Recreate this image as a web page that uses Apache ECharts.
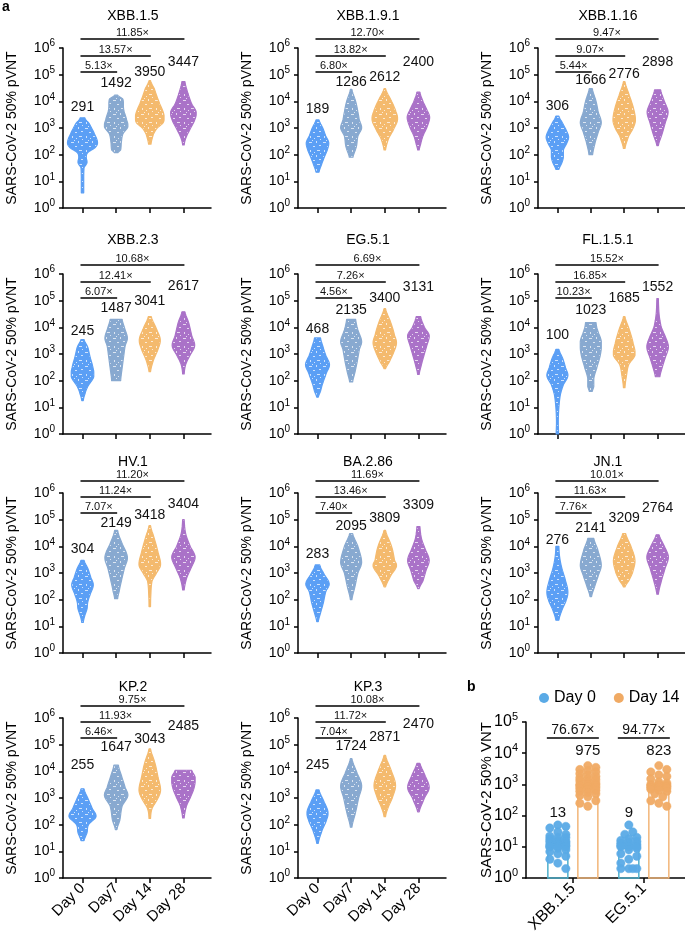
<!DOCTYPE html>
<html><head><meta charset="utf-8">
<script src="https://cdn.jsdelivr.net/npm/echarts@6/dist/echarts.min.js"></script>
<style>html,body{margin:0;padding:0;background:#fff}#c{width:685px;height:944px}</style>
</head><body><div id="c"></div>
<script>
// ---------------- DATA ----------------
const variants = ['XBB.1.5','XBB.1.9.1','XBB.1.16','XBB.2.3','EG.5.1','FL.1.5.1','HV.1','BA.2.86','JN.1','KP.2','KP.3'];
const days = ['Day 0','Day7','Day 14','Day 28'];
const gmt = [
  [291,1492,3950,3447],[189,1286,2612,2400],[306,1666,2776,2898],[245,1487,3041,2617],
  [468,2135,3400,3131],[100,1023,1685,1552],[304,2149,3418,3404],[283,2095,3809,3309],
  [276,2141,3209,2764],[255,1647,3043,2485],[245,1724,2871,2470]
];
// fold changes vs Day 0: [Day7, Day14, Day28]
const folds = [
  [5.13,13.57,11.85],[6.80,13.82,12.70],[5.44,9.07,9.47],[6.07,12.41,10.68],
  [4.56,7.26,6.69],[10.23,16.85,15.52],[7.07,11.24,11.20],[7.40,13.46,11.69],
  [7.76,11.63,10.01],[6.46,11.93,9.75],[7.04,11.72,10.08]
];
// violin density profiles: [titer, relative density width], high -> low
const violins = [
 [ // XBB.1.5
  [[2400,.15],[1450,.45],[690,.75],[290,1.0],[186,.85],[120,.35],[80,.25],[50,.3],[32,.1],[3.7,.08]],
  [[17000,.1],[12000,.45],[5000,.5],[2000,.7],[1100,.78],[600,.45],[300,.35],[150,.3],[120,.12]],
  [[60000,.05],[30000,.3],[10000,.6],[3000,.95],[1600,.9],[1000,.5],[600,.25],[250,.08]],
  [[55000,.1],[20000,.3],[8000,.55],[4000,.85],[2000,.75],[800,.4],[400,.15],[230,.05]]
 ],
 [ // XBB.1.9.1
  [[2000,.1],[1000,.35],[500,.55],[280,.75],[150,.65],[80,.45],[40,.25],[22,.1]],
  [[28000,.05],[10000,.3],[4000,.45],[2000,.55],[1000,.7],[500,.45],[200,.35],[80,.12]],
  [[30000,.05],[10000,.45],[4000,.75],[2000,.85],[800,.55],[400,.25],[150,.05]],
  [[22000,.1],[10000,.3],[5000,.55],[2500,.75],[1000,.55],[500,.3],[250,.15],[150,.05]]
 ],
 [ // XBB.1.16
  [[2800,.1],[1500,.35],[800,.6],[450,.75],[250,.6],[150,.4],[80,.4],[50,.3],[28,.1]],
  [[30000,.1],[10000,.35],[4000,.5],[1600,.7],[700,.5],[300,.3],[100,.12]],
  [[55000,.05],[20000,.3],[6000,.6],[2000,.75],[1000,.6],[500,.3],[170,.05]],
  [[27000,.2],[10000,.45],[4000,.7],[1500,.5],[600,.3],[220,.05]]
 ],
 [ // XBB.2.3
  [[3500,.1],[1800,.35],[800,.5],[300,.7],[140,.75],[60,.35],[30,.15],[18,.05]],
  [[20000,.4],[10000,.55],[4000,.75],[2000,.6],[800,.5],[300,.4],[100,.3]],
  [[25000,.1],[10000,.4],[3500,.7],[1500,.55],[600,.25],[220,.05]],
  [[38000,.1],[15000,.35],[5000,.55],[2000,.75],[800,.4],[400,.15],[180,.05]]
 ],
 [ // EG.5.1
  [[4000,.2],[2000,.35],[900,.55],[400,.8],[200,.6],[80,.35],[40,.2],[24,.05]],
  [[20000,.3],[8000,.45],[3000,.7],[1500,.55],[500,.4],[200,.25],[90,.1]],
  [[50000,.05],[15000,.4],[5000,.65],[2500,.78],[1000,.55],[500,.3],[280,.05]],
  [[25000,.15],[10000,.4],[5000,.72],[2000,.55],[800,.35],[400,.2],[170,.05]]
 ],
 [ // FL.1.5.1
  [[1500,.1],[700,.35],[300,.55],[150,.7],[70,.4],[30,.2],[10,.1],[3,.06],[1,.08]],
  [[15000,.35],[8000,.45],[3000,.7],[1000,.65],[300,.4],[120,.2],[60,.2],[40,.1]],
  [[25000,.05],[8000,.35],[2500,.6],[900,.72],[400,.3],[150,.15],[55,.05]],
  [[120000,.05],[30000,.1],[10000,.25],[4000,.55],[1800,.72],[700,.5],[300,.3],[140,.15]]
 ],
 [ // HV.1
  [[3000,.1],[1500,.35],[700,.55],[350,.72],[150,.5],[80,.35],[45,.3],[25,.15],[14,.05]],
  [[40000,.1],[15000,.35],[4000,.75],[1500,.55],[500,.35],[200,.2],[110,.1]],
  [[60000,.05],[20000,.3],[6000,.55],[2000,.72],[1000,.45],[500,.15],[150,.07],[55,.05]],
  [[100000,.05],[30000,.15],[10000,.45],[4000,.78],[1500,.5],[600,.2],[230,.05]]
 ],
 [ // BA.2.86
  [[2000,.15],[1000,.4],[400,.78],[200,.55],[80,.4],[40,.25],[15,.05]],
  [[30000,.1],[10000,.45],[2500,.7],[1000,.45],[300,.25],[100,.05]],
  [[40000,.05],[10000,.45],[3000,.65],[1800,.78],[800,.4],[300,.05]],
  [[55000,.1],[20000,.2],[8000,.45],[3000,.72],[1200,.5],[500,.3],[260,.05]]
 ],
 [ // JN.1
  [[10000,.1],[4000,.15],[1500,.3],[500,.55],[200,.7],[100,.6],[40,.3],[17,.1]],
  [[20000,.2],[8000,.45],[2000,.7],[800,.5],[300,.25],[130,.05]],
  [[30000,.1],[10000,.45],[3000,.72],[1000,.55],[500,.3],[300,.05]],
  [[27000,.1],[10000,.45],[4000,.72],[1500,.5],[500,.25],[160,.05]]
 ],
 [ // KP.2
  [[2200,.1],[1000,.35],[400,.65],[200,.9],[100,.4],[50,.3],[25,.1]],
  [[17000,.15],[7000,.35],[2500,.6],[1200,.78],[500,.4],[150,.25],[65,.05]],
  [[70000,.05],[20000,.35],[6000,.55],[2000,.72],[1000,.55],[400,.15],[170,.05]],
  [[11000,.55],[6000,.78],[2500,.72],[1000,.45],[500,.2],[180,.05]]
 ],
 [ // KP.3
  [[2000,.1],[800,.4],[300,.7],[150,.6],[60,.3],[20,.05]],
  [[30000,.05],[10000,.35],[3000,.7],[1000,.5],[300,.3],[80,.05]],
  [[40000,.05],[10000,.45],[3000,.72],[1000,.5],[400,.2],[200,.05]],
  [[20000,.1],[8000,.4],[2500,.72],[1000,.4],[300,.05]]
 ]
];
// panel b
const bVariants = ['XBB.1.5','EG.5.1'];
const bGroups = ['Day 0','Day 14'];
const bGmt = [[13,975],[9,823]];
const bFolds = [76.67,94.77];
const bDay0 = [
  [50,45,40,30,25,22,20,20,18,16,15,15,14,13,12,12,11,10,10,10,10,9,8,7,6,5,4,3,2],
  [50,30,25,20,18,16,15,14,13,12,12,11,10,10,10,9,8,6,5,4,3,2,2,2,2]
];
const bDay14 = [
  [4000,3500,3000,2800,2500,2200,2000,1800,1600,1500,1400,1300,1200,1100,1000,1000,950,900,850,800,750,700,650,600,550,500,450,400,300,250,200],
  [4000,3000,2500,2000,1800,1500,1200,1100,1000,1000,950,900,900,850,800,800,750,700,650,600,500,400,300,250,200]
];

// ---------------- LAYOUT / STYLE ----------------
const FONT = '"Liberation Sans", Arial, sans-serif';
const DAY_COLORS = ['#5b9ff5','#88a9d0','#f4ba6e','#aa72c8'];
const COL_LEFT = [63, 298, 538];
const ROW_TOP = [48, 274, 493, 718];
const TITLE_Y = [16, 240, 462, 687];
const GW = 148, GH = 160;
const VW = 15; // px half-width at density 1
const BRACKET_DY = [[-9,8,24],[-9,8,24],[-12,4,20],[-12,4,20]];
const MEAN_DY = [
  [59,35,24,14],[61,34,29,14],[58,32,26,14],[57,34,27,12],[55,36,24,13],[61,36,24,13],
  [56,30,22,11],[61,33,25,12],[47,35,25,15],[47,29,21,8],[47,28,19,6]
];

function speckle(color) {
  const c = document.createElement('canvas');
  c.width = 14; c.height = 14;
  const g = c.getContext('2d');
  g.fillStyle = color; g.fillRect(0, 0, 14, 14);
  g.fillStyle = 'rgba(255,255,255,0.7)';
  [[1,2,3,1],[8,1,1,2],[5,6,2,1],[11,5,2,1],[2,10,1,2],[9,10,3,1],[6,12,1,1],[12,13,1,1],[4,0,1,1]]
    .forEach(r => g.fillRect(r[0], r[1], r[2], r[3]));
  return {image: c, repeat: 'repeat'};
}
const DAY_FILLS = DAY_COLORS.map(speckle);

// smooth the density knots in log space (clamped Catmull-Rom, no overshoot)
function densify(prof) {
  const L = prof.map(p => [Math.log10(p[0]), p[1]]);
  const out = [L[0]];
  for (let j = 1; j < L.length; j++) {
    const p0 = L[Math.max(0, j - 2)], p1 = L[j - 1], p2 = L[j], p3 = L[Math.min(L.length - 1, j + 1)];
    const lo = Math.min(p1[1], p2[1]), hi = Math.max(p1[1], p2[1]);
    for (let s = 1; s <= 6; s++) {
      const t = s / 6;
      let w = 0.5 * ((2 * p1[1]) + (-p0[1] + p2[1]) * t + (2 * p0[1] - 5 * p1[1] + 4 * p2[1] - p3[1]) * t * t +
        (-p0[1] + 3 * p1[1] - 3 * p2[1] + p3[1]) * t * t * t);
      w = Math.max(lo, Math.min(hi, w));
      out.push([p1[0] + (p2[0] - p1[0]) * t, w]);
    }
  }
  return out;
}

const supFmt = v => '{b|10}{s|' + Math.round(Math.log10(v)) + '}';

const grids = [], xAxes = [], yAxes = [], series = [], titles = [];

variants.forEach((name, pi) => {
  const row = Math.floor(pi / 3), col = pi % 3;
  const left = COL_LEFT[col], top = ROW_TOP[row];
  const bottomRow = (pi >= 9);
  grids.push({left: left, top: top, width: GW, height: GH});
  xAxes.push({
    type: 'value', gridIndex: pi, min: -0.58, max: 3.82,
    axisLine: {onZero: false, lineStyle: {color: '#000', width: 1.5}},
    axisTick: {customValues: [0,1,2,3], length: 5, lineStyle: {color: '#000', width: 1.5}},
    axisLabel: bottomRow ? {customValues: [0,1,2,3], rotate: 45, formatter: v => days[Math.round(v)],
      fontSize: 15, color: '#000', fontFamily: FONT, margin: 8} : {show: false},
    splitLine: {show: false}
  });
  yAxes.push({
    type: 'log', logBase: 10, gridIndex: pi, min: 1, max: 1e6,
    axisLine: {show: true, onZero: false, lineStyle: {color: '#000', width: 1.5}},
    axisTick: {show: true, length: 4, lineStyle: {color: '#000', width: 1.5}},
    splitLine: {show: false},
    axisLabel: {formatter: supFmt, margin: 8, rich: {
      b: {fontSize: 14, color: '#000', fontFamily: FONT},
      s: {fontSize: 10, color: '#000', fontFamily: FONT, padding: [0,0,9,0]}}},
    name: 'SARS-CoV-2 50% pVNT', nameLocation: 'middle', nameGap: 44, nameMoveOverlap: false,
    nameTextStyle: {fontSize: 14, color: '#000', fontFamily: FONT}
  });
  titles.push({text: name, left: left + (GW * (0.58 + 1.5) / 4.4), top: TITLE_Y[row] - 8, textAlign: 'center',
    padding: 0, textStyle: {fontSize: 14, fontWeight: 'normal', color: '#000', fontFamily: FONT, lineHeight: 16}});
  series.push({
    type: 'custom', xAxisIndex: pi, yAxisIndex: pi, clip: false, silent: true,
    data: days.map((d, i) => [i, gmt[pi][i]]),
    renderItem: function (params, api) {
      const d = params.dataIndex;
      const prof = densify(violins[pi][d]);
      const cx = api.coord([d, 1])[0];
      const right = prof.map(p => [cx + p[1] * VW, api.coord([d, Math.pow(10, p[0])])[1]]);
      const leftS = prof.slice().reverse().map(p => [cx - p[1] * VW, api.coord([d, Math.pow(10, p[0])])[1]]);
      const cs = params.coordSys;
      return {type: 'group', children: [
        {type: 'polygon', shape: {points: right.concat(leftS)},
          style: {fill: DAY_FILLS[d], stroke: DAY_COLORS[d], lineWidth: 1.2, lineJoin: 'round'}},
        {type: 'text', style: {text: String(gmt[pi][d]), x: cx, y: cs.y + MEAN_DY[pi][d],
          align: 'center', verticalAlign: 'middle', font: '14px ' + FONT, fill: '#111'}}
      ]};
    }
  });
  series.push({
    type: 'custom', xAxisIndex: pi, yAxisIndex: pi, clip: false, silent: true,
    data: folds[pi].map((f, i) => [i + 1, f]),
    renderItem: function (params, api) {
      const k = params.dataIndex + 1;
      const cs = params.coordSys;
      const y = cs.y + BRACKET_DY[row][3 - k];
      const x0 = api.coord([-0.06, 1])[0], x1 = api.coord([k + 0.03, 1])[0];
      return {type: 'group', children: [
        {type: 'line', shape: {x1: x0, y1: y, x2: x1, y2: y}, style: {stroke: '#000', lineWidth: 1.5}},
        {type: 'text', style: {text: folds[pi][k - 1].toFixed(2) + '\u00d7', x: (x0 + x1) / 2, y: y - 6,
          align: 'center', verticalAlign: 'middle', font: '11px ' + FONT, fill: '#111'}}
      ]};
    }
  });
});

// ---------- panel b ----------
const bi = variants.length;
grids.push({left: 526, top: 722, width: 159, height: 156});
xAxes.push({
  type: 'value', gridIndex: bi, min: -0.66, max: 1.58,
  axisLine: {onZero: false, lineStyle: {color: '#000', width: 1.5}},
  axisTick: {customValues: [0,1], length: 5, lineStyle: {color: '#000', width: 1.5}},
  axisLabel: {customValues: [0,1], rotate: 45, formatter: v => bVariants[Math.round(v)],
    fontSize: 16, color: '#000', fontFamily: FONT, margin: 8},
  splitLine: {show: false}
});
yAxes.push({
  type: 'log', logBase: 10, gridIndex: bi, min: 1, max: 1e5,
  axisLine: {show: true, onZero: false, lineStyle: {color: '#000', width: 1.5}},
  axisTick: {show: true, length: 4, lineStyle: {color: '#000', width: 1.5}},
  splitLine: {show: false},
  axisLabel: {formatter: supFmt, margin: 8, rich: {
    b: {fontSize: 16, color: '#000', fontFamily: FONT},
    s: {fontSize: 11, color: '#000', fontFamily: FONT, padding: [0,0,10,0]}}},
  name: 'SARS-CoV-2 50% VNT', nameLocation: 'middle', nameGap: 32, nameMoveOverlap: false,
  nameTextStyle: {fontSize: 15, color: '#000', fontFamily: FONT}
});
const B_BAR_COLORS = ['#4fb0cc', '#f2b679'];
const B_DOT_COLORS = ['#5aaae6', '#f0aa64'];
const B_OFF = [-15, 15];
const B_LABEL_DY = [91, 29];

function swarm(vals, cx, api, r, halfW) {
  const pts = vals.map(v => api.coord([0, v])[1]).sort((a, b) => a - b);
  const placed = [];
  pts.forEach(y => {
    let best = 0, bestOv = Infinity;
    for (let k = 0; k < 9; k++) {
      const off = (k % 2 === 1 ? 1 : -1) * Math.ceil(k / 2) * r * 0.95;
      if (Math.abs(off) > halfW) continue;
      let ov = 0;
      placed.forEach(p => {
        const dd = Math.hypot(p[0] - (cx + off), p[1] - y);
        if (dd < 2 * r * 0.9) ov += (2 * r * 0.9 - dd);
      });
      if (ov < bestOv - 0.01) { bestOv = ov; best = off; }
      if (ov === 0) break;
    }
    placed.push([cx + best, y]);
  });
  return placed;
}

bGroups.forEach((g, gi) => {
  series.push({
    type: 'custom', name: g, xAxisIndex: bi, yAxisIndex: bi, clip: false, silent: true,
    itemStyle: {color: B_DOT_COLORS[gi]},
    data: bVariants.map((v, i) => [i, bGmt[i][gi]]),
    renderItem: function (params, api) {
      const i = params.dataIndex;
      const cx = api.coord([i, 1])[0] + B_OFF[gi];
      const y0 = api.coord([i, 1])[1];
      const y1 = api.coord([i, bGmt[i][gi]])[1];
      const vals = gi === 0 ? bDay0[i] : bDay14[i];
      const dots = swarm(vals, cx, api, 4.2, 10);
      const cs = params.coordSys;
      const children = [
        {type: 'rect', shape: {x: cx - 10, y: y1, width: 20, height: y0 - y1},
          style: {fill: 'none', stroke: B_BAR_COLORS[gi], lineWidth: 1.5}}
      ];
      dots.forEach(p => children.push({type: 'circle', shape: {cx: p[0], cy: p[1], r: 4.2},
        style: {fill: B_DOT_COLORS[gi], stroke: B_DOT_COLORS[gi], lineWidth: 0.5, opacity: 0.95}}));
      children.push({type: 'text', style: {text: String(bGmt[i][gi]), x: cx, y: cs.y + B_LABEL_DY[gi],
        align: 'center', verticalAlign: 'middle', font: '15px ' + FONT, fill: '#111'}});
      return {type: 'group', children: children};
    }
  });
});
series.push({
  type: 'custom', xAxisIndex: bi, yAxisIndex: bi, clip: false, silent: true,
  data: bFolds.map((f, i) => [i, f]),
  renderItem: function (params, api) {
    const i = params.dataIndex;
    const cs = params.coordSys;
    const cx = api.coord([i, 1])[0];
    const y = cs.y + 16;
    return {type: 'group', children: [
      {type: 'line', shape: {x1: cx - 26, y1: y, x2: cx + 26, y2: y}, style: {stroke: '#000', lineWidth: 1.5}},
      {type: 'text', style: {text: bFolds[i].toFixed(2) + '\u00d7', x: cx, y: y - 8,
        align: 'center', verticalAlign: 'middle', font: '14px ' + FONT, fill: '#111'}}
    ]};
  }
});

titles.push({text: 'a', left: 2, top: 0, padding: 0, textStyle: {fontSize: 14, fontWeight: 'bold', color: '#000', fontFamily: FONT, lineHeight: 14}});
titles.push({text: 'b', left: 467, top: 680, padding: 0, textStyle: {fontSize: 14, fontWeight: 'bold', color: '#000', fontFamily: FONT, lineHeight: 14}});

const chart = echarts.init(document.getElementById('c'), null, {renderer: 'canvas'});
chart.setOption({
  animation: false,
  backgroundColor: '#fff',
  title: titles,
  legend: {data: bGroups, icon: 'circle', orient: 'horizontal', itemWidth: 10, itemHeight: 10, itemGap: 18,
    left: 539, top: 690, width: 200, padding: 0,
    textStyle: {fontSize: 16, color: '#000', fontFamily: FONT}, selectedMode: false},
  grid: grids, xAxis: xAxes, yAxis: yAxes, series: series
});
</script></body></html>
